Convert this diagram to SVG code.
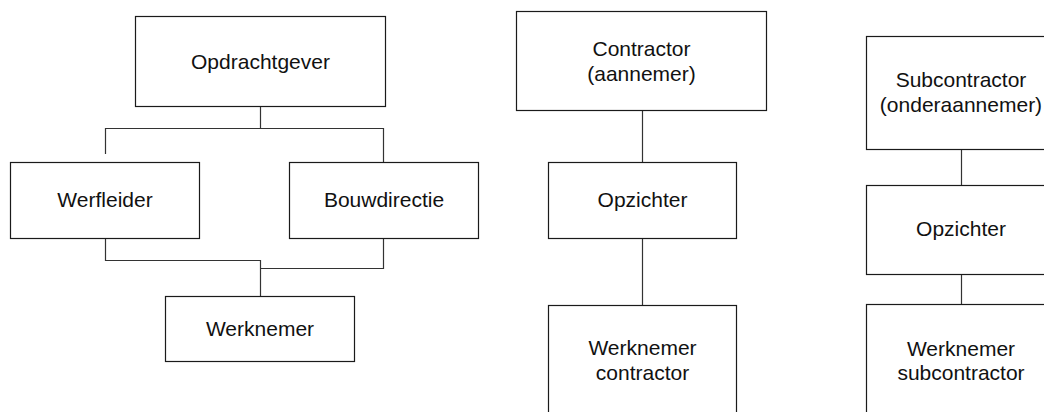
<svg xmlns="http://www.w3.org/2000/svg" width="1044" height="412" viewBox="0 0 1044 412">
<style>
.box{fill:#fff;stroke:#1a1a1a;stroke-width:1.2}
.lbl{font-family:"Liberation Sans",Arial,sans-serif;font-size:21px;fill:#111;text-anchor:middle}
.con{fill:none;stroke:#333;stroke-width:1.2}
</style>
<rect width="1044" height="412" fill="#fff"/>
<g id="connectors">
<path class="con" d="M260.5,107 V128.5 M105.5,154 V128.5 H383.5 V162"/>
<path class="con" d="M105.5,238 V260.5 H260.5 V296 M383.5,238 V268.5 H260.5"/>
<path class="con" d="M642.5,111 V162 M642.5,238 V305"/>
<path class="con" d="M961.5,149 V185 M961.5,274 V304"/>
</g>
<g id="opdrachtgever"><rect class="box" x="135.5" y="16.5" width="250" height="90"/><text class="lbl" x="260.5" y="69">Opdrachtgever</text></g>
<g id="werfleider"><rect class="box" x="10.5" y="162.5" width="189" height="76"/><text class="lbl" x="105" y="207">Werfleider</text></g>
<g id="bouwdirectie"><rect class="box" x="289.5" y="162.5" width="189" height="76"/><text class="lbl" x="384" y="207">Bouwdirectie</text></g>
<g id="werknemer"><rect class="box" x="165.5" y="296.5" width="189" height="65"/><text class="lbl" x="260" y="336">Werknemer</text></g>
<g id="contractor"><rect class="box" x="516.5" y="11.5" width="250" height="99"/><text class="lbl" x="641.5" y="56">Contractor</text><text class="lbl" x="641.5" y="81">(aannemer)</text></g>
<g id="opzichter1"><rect class="box" x="548.5" y="162.5" width="188" height="76"/><text class="lbl" x="642.5" y="207">Opzichter</text></g>
<g id="werknemer-contractor"><rect class="box" x="548.5" y="305.5" width="188" height="130"/><text class="lbl" x="642.5" y="355">Werknemer</text><text class="lbl" x="642.5" y="380">contractor</text></g>
<g id="subcontractor"><rect class="box" x="866.5" y="36.5" width="188" height="113"/><text class="lbl" x="961" y="87">Subcontractor</text><text class="lbl" x="961" y="112">(onderaannemer)</text></g>
<g id="opzichter2"><rect class="box" x="866.5" y="185.5" width="188" height="89"/><text class="lbl" x="961" y="236">Opzichter</text></g>
<g id="werknemer-subcontractor"><rect class="box" x="866.5" y="304.5" width="188" height="130"/><text class="lbl" x="961" y="356">Werknemer</text><text class="lbl" x="961" y="380">subcontractor</text></g>
</svg>
